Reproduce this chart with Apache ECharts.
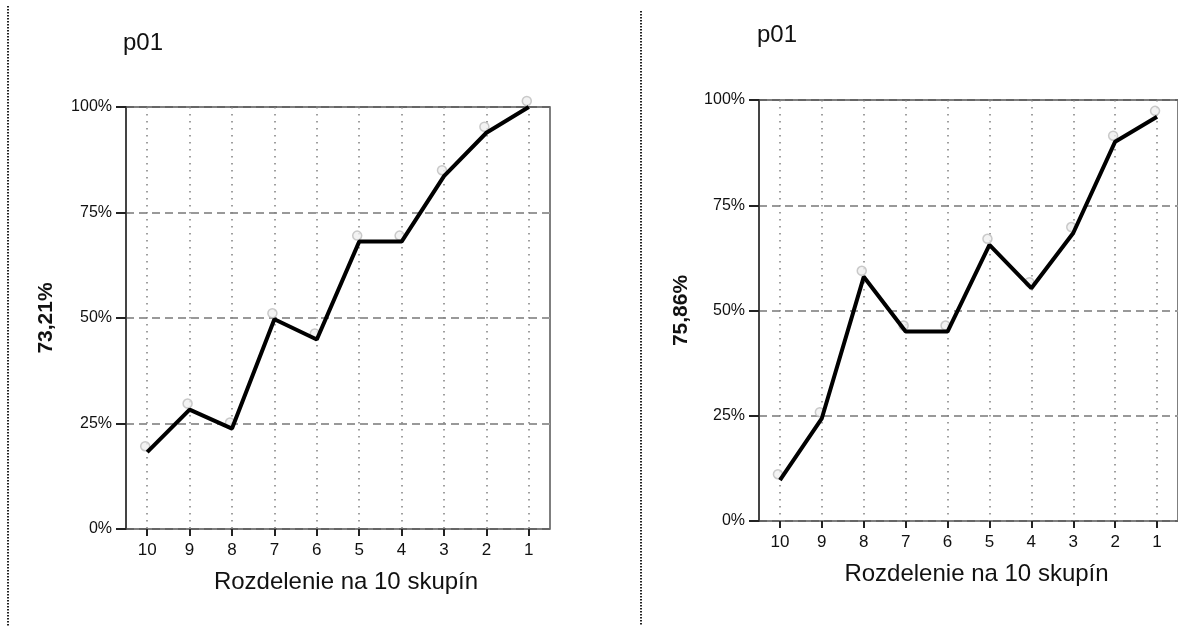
<!DOCTYPE html>
<html>
<head>
<meta charset="utf-8">
<script src="https://cdn.jsdelivr.net/npm/echarts@6/dist/echarts.min.js"></script>
<style>
html,body{margin:0;padding:0;background:#fff;}
#c{width:1178px;height:626px;}
</style>
</head>
<body>
<div id="c"></div>
<script>
const categories = ['10','9','8','7','6','5','4','3','2','1'];
const leftValues = [18.2, 28.3, 23.8, 49.7, 44.9, 68.1, 68.1, 83.6, 93.9, 100];
const rightValues = [9.7, 24.4, 58.0, 45.0, 45.0, 65.6, 55.3, 68.4, 90.1, 96.0];
const titles = ['p01', 'p01'];
const yNames = ['73,21%', '75,86%'];
const xName = 'Rozdelenie na 10 skupín';
const yTicks = [0, 25, 50, 75, 100];

const FONT = 'Liberation Sans, Arial, sans-serif';
const chart = echarts.init(document.getElementById('c'), null, {renderer: 'canvas'});

const grids = [
  {left: 126, top: 107, width: 424, height: 422},
  {left: 759, top: 100, width: 424, height: 421}
];

function xAxis(i) {
  return {
    type: 'category', gridIndex: i, data: categories, boundaryGap: true,
    name: xName, nameLocation: 'middle', nameGap: 41,
    nameTextStyle: {fontFamily: FONT, fontSize: 24, color: '#111', padding: [0, 0, 0, 16]},
    axisLine: {show: false},
    axisTick: {show: true, alignWithLabel: true, length: 7, lineStyle: {color: '#222', width: 2}},
    axisLabel: {fontFamily: FONT, fontSize: 17, color: '#111', margin: 13},
    splitLine: {show: true, alignWithLabel: true, lineStyle: {color: '#808080', type: [1.5, 5.5], width: 1.5}}
  };
}
function yAxis(i) {
  return {
    type: 'value', gridIndex: i, min: 0, max: 100, interval: 25,
    name: yNames[i], nameLocation: 'middle', nameRotate: 90, nameGap: i === 0 ? 69 : 67,
    nameTextStyle: {fontFamily: FONT, fontSize: 21, fontWeight: 'bold', color: '#111'},
    axisLine: {show: true, lineStyle: {color: '#444', width: 2}},
    axisTick: {show: true, length: 10, lineStyle: {color: '#222', width: 2}},
    axisLabel: {fontFamily: FONT, fontSize: 16, color: '#111', margin: 14, formatter: '{value}%'},
    splitLine: {show: true, lineStyle: {color: ['#666', '#999', '#999', '#999', '#666'], type: [8, 5], width: 2}}
  };
}

const datasets = [leftValues, rightValues];
const series = [];
datasets.forEach((vals, i) => {
  series.push({
    type: 'scatter', xAxisIndex: i, yAxisIndex: i, data: vals,
    symbol: 'circle', symbolSize: 9, symbolOffset: [-2, -6], z: 2, silent: true,
    itemStyle: {color: '#f0f0f0', borderColor: '#bdbdbd', borderWidth: 1.5}
  });
  series.push({
    type: 'line', xAxisIndex: i, yAxisIndex: i, data: vals,
    showSymbol: false, symbol: 'none', z: 3, silent: true,
    lineStyle: {color: '#000', width: 4}
  });
});

chart.setOption({
  animation: false,
  backgroundColor: '#fff',
  title: [
    {text: titles[0], left: 123, top: 31, padding: 0, textStyle: {fontFamily: FONT, fontSize: 24, fontWeight: 'normal', color: '#111'}},
    {text: titles[1], left: 757, top: 23, padding: 0, textStyle: {fontFamily: FONT, fontSize: 24, fontWeight: 'normal', color: '#111'}}
  ],
  grid: grids.map(g => Object.assign({show: true, borderColor: '#555', borderWidth: 1.5, containLabel: false}, g)),
  xAxis: [xAxis(0), xAxis(1)],
  yAxis: [yAxis(0), yAxis(1)],
  series: series,
  graphic: [
    {type: 'line', silent: true, shape: {x1: 8, y1: 6, x2: 8, y2: 626}, style: {stroke: '#222', lineWidth: 2, lineDash: [1.5, 1.5]}},
    {type: 'line', silent: true, shape: {x1: 641, y1: 11, x2: 641, y2: 626}, style: {stroke: '#222', lineWidth: 2, lineDash: [1.5, 1.5]}}
  ]
});
</script>
</body>
</html>
